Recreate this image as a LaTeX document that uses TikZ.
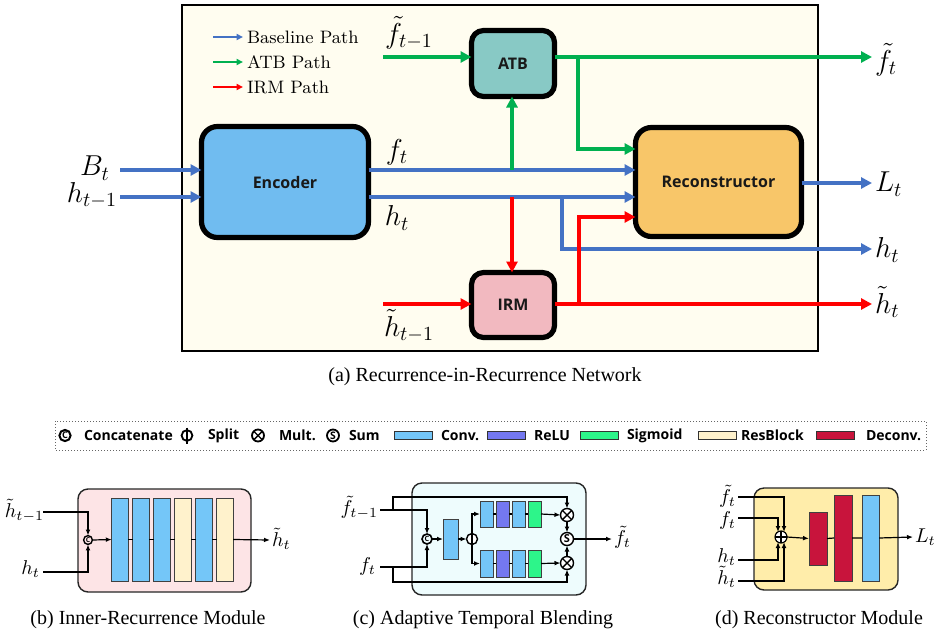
\documentclass[tikz,border=0pt]{standalone}
\usepackage{fontspec}
\newfontfamily\capfont{Liberation Serif}
\newfontfamily\boxfont{Open Sans}
\usetikzlibrary{arrows.meta,calc}

\definecolor{bpath}{HTML}{4472C4}
\definecolor{gpath}{HTML}{00B050}
\definecolor{rpath}{HTML}{FF0000}
\definecolor{panelbg}{HTML}{FFFDF0}
\definecolor{atbfill}{HTML}{88C9C5}
\definecolor{encfill}{HTML}{70BCF0}
\definecolor{recfill}{HTML}{F8C669}
\definecolor{irmfill}{HTML}{F2B9C0}
\definecolor{convc}{HTML}{74C6F8}
\definecolor{reluc}{HTML}{7478F0}
\definecolor{sigc}{HTML}{2DF58A}
\definecolor{resc}{HTML}{FFF2CC}
\definecolor{deconvc}{HTML}{C8143C}
\definecolor{irmbg}{HTML}{FDE4E6}
\definecolor{atbbg}{HTML}{EEFCFD}
\definecolor{recbg}{HTML}{FFEDAA}

\begin{document}
\begin{tikzpicture}[x=0.5pt,y=-0.5pt,
  every node/.style={inner sep=0pt,outer sep=0pt},
  mainbox/.style={draw=black,line width=2.6pt,rounded corners=8pt,
    font=\boxfont\bfseries\fontsize{8}{10}\selectfont,text=black!90},
  arr/.style={line width=1.8pt,-{Triangle[length=5.5pt,width=5.5pt]}},
  mlab/.style={font=\fontsize{14}{16}\selectfont},
  slab/.style={font=\fontsize{10}{12}\selectfont},
  capt/.style={font=\capfont\fontsize{10}{12}\selectfont},
  legtxt/.style={font=\boxfont\bfseries\fontsize{7}{8}\selectfont,anchor=west},
  legbar/.style={draw=black!80,line width=0.5pt,minimum width=19pt,minimum height=4pt},
  bar/.style={draw=black!75,line width=0.5pt},
  panel/.style={draw=black!85,line width=0.7pt,rounded corners=5pt},
  thinl/.style={line width=0.6pt},
  sarr/.style={line width=0.6pt,-{Latex[length=3pt,width=2.4pt]}},
  catsym/.style={circle,draw,line width=0.8pt,
    font=\boxfont\bfseries\fontsize{3.6}{4}\selectfont},
  sumsym/.style={circle,draw,line width=0.7pt,fill=white,
    font=\boxfont\bfseries\fontsize{4.5}{5}\selectfont},
  multsym/.style={circle,draw,line width=0.7pt,fill=white,
    path picture={\draw[line width=0.7pt]
      (path picture bounding box.north west)--(path picture bounding box.south east)
      (path picture bounding box.north east)--(path picture bounding box.south west);}},
  plussym/.style={circle,draw,line width=0.6pt,fill=white,
    path picture={\draw[line width=0.6pt]
      (path picture bounding box.north)--(path picture bounding box.south)
      (path picture bounding box.east)--(path picture bounding box.west);}},
  splitsym/.style={circle,draw,line width=0.7pt,fill=white,
    path picture={\draw[line width=0.7pt]
      (path picture bounding box.north)--(path picture bounding box.south);}}
]
\useasboundingbox (0,0) rectangle (945,631);

% ---------------- (a) overall network ----------------
\draw[line width=1pt,fill=panelbg] (182,5) rectangle (818,351);

% path legend
\foreach \y/\c/\t in {37/bpath/Baseline Path,62/gpath/ATB Path,87/rpath/IRM Path}{
  \draw[\c,line width=0.9pt,-{Triangle[length=3.2pt,width=3pt]}] (213,\y) -- (243,\y);
  \node[anchor=west,font=\fontsize{9}{11}\selectfont] at (247,\y) {\t};
}

% blocks
\node[mainbox,fill=encfill,minimum width=83.5pt,minimum height=55.5pt] (enc) at (285,182) {Encoder};
\node[mainbox,fill=recfill,minimum width=83pt,minimum height=54.5pt] (rec) at (718.5,182) {Reconstructor};
\node[mainbox,fill=atbfill,rounded corners=6pt,minimum width=41.5pt,minimum height=33pt] (atb) at (513,63.5) {ATB};
\node[mainbox,fill=irmfill,rounded corners=6pt,minimum width=41.5pt,minimum height=32.5pt] (irm) at (513,305) {IRM};

% free ends and junctions
\coordinate (inB) at (120,170);
\coordinate (inH) at (120,197);
\coordinate (gJ) at (512,170);
\coordinate (rJ) at (512,197);
\coordinate (bJ) at (562,197);
\coordinate (outH) at (872,249);
\coordinate (inF) at (383,57);
\coordinate (outF) at (872,57);
\coordinate (gK) at (578,57);
\coordinate (gR) at (0,149);
\coordinate (outL) at (872,183);
\coordinate (inHt) at (383,304);
\coordinate (outHt) at (872,304);
\coordinate (rK) at (579,304);
\coordinate (rR) at (0,217);

% baseline path
\draw[arr,bpath] (inB) -- (inB -| enc.west);
\draw[arr,bpath] (inH) -- (inH -| enc.west);
\draw[arr,bpath] (enc.east |- inB) -- (rec.west |- inB);
\draw[arr,bpath] (enc.east |- inH) -- (rec.west |- inH);
\draw[arr,bpath] (bJ) -- (bJ |- outH) -- (outH);
\draw[arr,bpath] (outL -| rec.east) -- (outL);

% ATB path
\draw[arr,gpath] (gJ) -- (gJ |- atb.south);
\draw[arr,gpath] (inF) -- (inF -| atb.west);
\draw[arr,gpath] (outF -| atb.east) -- (outF);
\draw[arr,gpath] (gK) -- (gK |- gR) -- (gR -| rec.west);

% IRM path
\draw[arr,rpath] (rJ) -- (rJ |- irm.north);
\draw[arr,rpath] (inHt) -- (inHt -| irm.west);
\draw[arr,rpath] (outHt -| irm.east) -- (outHt);
\draw[arr,rpath] (rK) -- (rK |- rR) -- (rR -| rec.west);

% labels
\node[mlab] (lBt) at (95,168) {$B_t$};
\node[mlab] (lHp) at (92,195) {$h_{t-1}$};
\node[mlab] (lFp) at (409,33) {$\tilde f_{t-1}$};
\node[mlab] (lF) at (397,152) {$f_t$};
\node[mlab] (lH) at (397,218) {$h_t$};
\node[mlab] (lHtp) at (409,326) {$\tilde h_{t-1}$};
\node[mlab,anchor=west] (rF) at (875,60) {$\tilde f_t$};
\node[mlab,anchor=west] (rL) at (875,184) {$L_t$};
\node[mlab,anchor=west] (rH) at (875,250) {$h_t$};
\node[mlab,anchor=west] (rHt) at (875,302) {$\tilde h_t$};

\node[capt] (capa) at (485,377) {(a) Recurrence-in-Recurrence Network};

% ---------------- operator / layer legend ----------------
\draw[densely dotted,line width=0.5pt,black!60] (55,421) rectangle (926,450);
\node[catsym,minimum size=5.6pt,line width=1pt,font=\boxfont\bfseries\fontsize{4.6}{5}\selectfont] (lgc) at (65,435.5) {C};
\node[legtxt] at (84,435.5) {Concatenate};
\node[splitsym,minimum size=5.4pt,line width=0.9pt] (lgs) at (187,435.5) {};
\draw[line width=0.9pt] (187,427.5) -- (187,443.5);
\node[legtxt] at (208,435.5) {Split};
\node[multsym,minimum size=6pt,line width=0.9pt] (lgm) at (258,435.5) {};
\node[legtxt] at (279,435.5) {Mult.};
\node[sumsym,minimum size=6pt,line width=0.9pt,font=\boxfont\bfseries\fontsize{5.2}{6}\selectfont] (lgsum) at (333,435.5) {S};
\node[legtxt] at (349,435.5) {Sum};
\node[legbar,fill=convc] at (413,435.5) {};
\node[legtxt] at (441,435.5) {Conv.};
\node[legbar,fill=reluc] at (506.5,435.5) {};
\node[legtxt] at (534,435.5) {ReLU};
\node[legbar,fill=sigc] at (599,435.5) {};
\node[legtxt] at (627,435.5) {Sigmoid};
\node[legbar,fill=resc] at (717,435.5) {};
\node[legtxt] at (741,435.5) {ResBlock};
\node[legbar,fill=deconvc] at (835,435.5) {};
\node[legtxt] at (866,435.5) {Deconv.};

% ---------------- (b) inner-recurrence module ----------------
\draw[panel,fill=irmbg] (78,489) rectangle (251,592);
\foreach \i/\x/\c in {1/120/convc,2/141/convc,3/162/convc,4/183/resc,5/204/convc,6/225/resc}
  \node[bar,fill=\c,minimum width=8.2pt,minimum height=41.5pt] (b\i) at (\x,539.5) {};
\node[catsym,minimum size=4.4pt,line width=0.7pt,font=\boxfont\bfseries\fontsize{3.4}{3.5}\selectfont] (cb) at (88,540) {C};
\coordinate (bin1) at (43,512);
\coordinate (bin2) at (43,572);
\coordinate (bout) at (270,540);
\draw[sarr] (bin1) -- (bin1 -| cb) -- (cb.north);
\draw[sarr] (bin2) -- (bin2 -| cb) -- (cb.south);
\draw[sarr] (cb.east) -- (b1.west);
\draw[thinl] (b1.east) -- (b2.west) (b2.east) -- (b3.west) (b3.east) -- (b4.west)
  (b4.east) -- (b5.west) (b5.east) -- (b6.west);
\draw[sarr] (b6.east) -- (bout);
\node[slab,anchor=east] at (44,511) {$\tilde h_{t-1}$};
\node[slab,anchor=east] at (40,569) {$h_t$};
\node[slab,anchor=west] at (272,539) {$\tilde h_t$};
\node[capt] (capb) at (148,620) {(b) Inner-Recurrence Module};

% ---------------- (c) adaptive temporal blending ----------------
\draw[panel,fill=atbbg] (412,483) rectangle (586,595);
\node[catsym,minimum size=5pt,line width=0.8pt] (cc) at (427,539) {C};
\node[bar,fill=convc,minimum width=7.5pt,minimum height=20pt] (blk) at (450.5,539) {};
\node[splitsym,minimum size=5.5pt] (sp) at (472,539) {};
\foreach \i/\x/\c in {1/486.5/convc,2/502.5/reluc,3/518.5/convc,4/534.5/sigc}{
  \node[bar,fill=\c,minimum width=6.5pt,minimum height=13pt] (u\i) at (\x,514) {};
  \node[bar,fill=\c,minimum width=6.5pt,minimum height=13.5pt] (l\i) at (\x,563.5) {};
}
\node[multsym,minimum size=6.5pt] (mt) at (567,515) {};
\node[sumsym,minimum size=6.5pt,font=\boxfont\bfseries\fontsize{5.5}{6}\selectfont] (sm) at (567,539) {S};
\node[multsym,minimum size=6.5pt] (mb) at (567,563) {};
\coordinate (cin1) at (380,510);
\coordinate (cin2) at (380,567);
\coordinate (cl1) at (393,510);
\coordinate (cl2) at (393,567);
\coordinate (ctop) at (393,497);
\coordinate (cbot) at (393,582);
\coordinate (cout) at (612,539);
\draw[sarr] (cin1) -- (cin1 -| cc) -- (cc.north);
\draw[sarr] (cin2) -- (cin2 -| cc) -- (cc.south);
\draw[sarr] (cl1) -- (ctop) -- (ctop -| mt) -- (mt.north);
\draw[sarr] (cl2) -- (cbot) -- (cbot -| mb) -- (mb.south);
\draw[sarr] (cc.east) -- (blk.west);
\draw[sarr] (blk.east) -- (sp.west);
\draw[sarr] (sp.north) -- (sp.north |- u1) -- (u1.west);
\draw[sarr] (sp.south) -- (sp.south |- l1) -- (l1.west);
\draw[thinl] (u1.east) -- (u2.west) (u2.east) -- (u3.west) (u3.east) -- (u4.west);
\draw[thinl] (l1.east) -- (l2.west) (l2.east) -- (l3.west) (l3.east) -- (l4.west);
\draw[sarr] (u4.east) -- (mt.west);
\draw[sarr] (l4.east) -- (mb.west);
\draw[sarr] (mt.south) -- (sm.north);
\draw[sarr] (mb.north) -- (sm.south);
\draw[sarr] (sm.east) -- (cout);
\node[slab,anchor=east] at (378,508) {$\tilde f_{t-1}$};
\node[slab,anchor=east] at (376,566) {$f_t$};
\node[slab,anchor=west] at (614,537) {$\tilde f_t$};
\node[capt] (capc) at (483,620) {(c) Adaptive Temporal Blending};

% ---------------- (d) reconstructor module ----------------
\draw[panel,fill=recbg] (754,488) rectangle (898,590);
\node[plussym,minimum size=6pt] (pl) at (781,537) {};
\node[bar,fill=deconvc,minimum width=9pt,minimum height=26.5pt] (d1) at (818,538.5) {};
\node[bar,fill=deconvc,minimum width=9pt,minimum height=43pt] (d2) at (843,538) {};
\node[bar,fill=convc,minimum width=8.5pt,minimum height=43pt] (cv) at (870.5,538) {};
\coordinate (din1) at (738,497);
\coordinate (din2) at (738,518);
\coordinate (din3) at (738,560);
\coordinate (din4) at (738,581);
\coordinate (xo) at (784,0);
\coordinate (xi) at (778,0);
\coordinate (dout) at (913,537);
\draw[sarr] (din1) -- (din1 -| xo) -- ($(pl.north)+(3,1)$);
\draw[sarr] (din2) -- (din2 -| xi) -- ($(pl.north)+(-3,1)$);
\draw[sarr] (din3) -- (din3 -| xi) -- ($(pl.south)+(-3,-1)$);
\draw[sarr] (din4) -- (din4 -| xo) -- ($(pl.south)+(3,-1)$);
\draw[sarr] (pl.east) -- (d1.west);
\draw[thinl] (d1.east) -- (d2.west) (d2.east) -- (cv.west);
\draw[sarr] (cv.east) -- (dout);
\node[slab,anchor=east] at (736,496) {$\tilde f_t$};
\node[slab,anchor=east] at (736,520) {$f_t$};
\node[slab,anchor=east] at (736,557) {$h_t$};
\node[slab,anchor=east] at (736,577) {$\tilde h_t$};
\node[slab,anchor=west] at (915,537) {$L_t$};
\node[capt] (capd) at (819,620) {(d) Reconstructor Module};
\end{tikzpicture}
\end{document}
